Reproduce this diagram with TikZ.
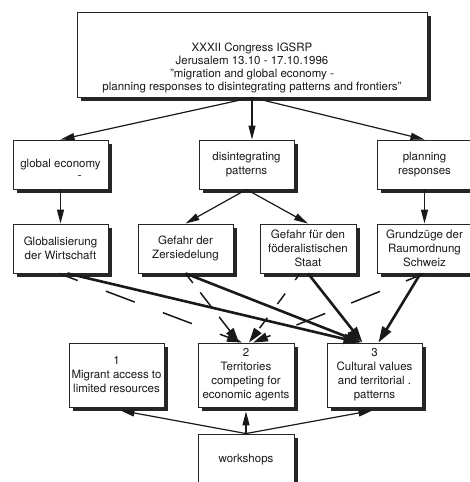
\documentclass[tikz,border=0pt]{standalone}
\usepackage{fontspec}
\setmainfont{TeX Gyre Heros}
\usetikzlibrary{arrows.meta,shadows}
\begin{document}
\begin{tikzpicture}[x=1pt,y=-1pt,
  txt/.style={font=\fontsize{11.5}{14}\selectfont, align=center, text=black!90},
  box/.style={txt, draw=black!85, line width=0.9pt, fill=white, inner sep=0pt,
    drop shadow={shadow xshift=4pt,shadow yshift=-4pt,fill=black!85,opacity=1}},
  boxA/.style={box, minimum width=95pt, minimum height=49pt},
  boxB/.style={box, minimum width=95pt, minimum height=64pt},
  thinarrow/.style={line width=1.2pt, draw=black!90, -{Triangle[length=14pt,width=7pt]}},
  thickarrow/.style={line width=2.6pt, draw=black!90, -{Triangle[length=16pt,width=10pt]}},
  dashline/.style={line width=1.5pt, draw=black!90, -{Triangle[length=15pt,width=9pt]}},
]
\useasboundingbox (0,0) rectangle (470,482);
\clip (0,0) rectangle (470,482);

% top box
\node[box, minimum width=350pt, minimum height=85pt] (top) at (252,54.5) {};
\node[font=\fontsize{11.5}{13}\selectfont, align=center, text=black!90] (toptext) at (252,67.5)
  {XXXII Congress IGSRP\\Jerusalem 13.10 - 17.10.1996\\"migration and global economy -\\planning responses to disintegrating patterns and frontiers"};

% second row
\node[boxA] (ge) at (60.5,164.5) {global economy};
\node[boxA] (dis) at (246.5,164.5) {disintegrating\\patterns};
\node[boxA] (pr) at (424.5,164.5) {planning\\responses};
\draw[line width=0.6pt, black!70] (78,175.5) -- (81,175.5);

% third row
\node[boxA] (gw) at (60.5,248.5) {Globalisierung\\der Wirtschaft};
\node[boxA] (gd) at (185.5,248.5) {Gefahr der\\Zersiedelung};
\node[boxA, minimum width=96pt] (gf) at (308,248.5) {Gefahr f\"ur den\\f\"oderalistischen\\Staat};
\node[boxA] (gz) at (424.5,248.5) {Grundz\"uge der\\Raumordnung\\Schweiz};

% fourth row
\node[boxB] (b1) at (116.5,375) {1\\Migrant access to\\limited resources};
\node[boxB, minimum width=96pt] (b2) at (246,375) {2\\Territories\\competing for\\economic agents};
\node[boxB] (b3) at (374.5,375) {3\\Cultural values\\and territorial .\\patterns};

% workshops
\node[box, minimum width=96pt, minimum height=52pt] (wk) at (246,460) {workshops};

% top arrows
\draw[thinarrow] (top.south) -- (ge.north);
\draw[thinarrow] (top.south) -- (top.south |- dis.north);
\draw[thinarrow] (top.south) -- (pr.north);

% second to third row
\draw[thinarrow] (ge.south) -- (gw.north);
\draw[thinarrow] (dis.south) -- (gd.north);
\draw[thinarrow] (dis.south) -- (gf.north);
\draw[thinarrow] (pr.south) -- (gz.north);

% dashed lines to box 2
\draw[dashline, dash pattern=on 31pt off 30pt, dash phase=11pt] ([xshift=-1.5pt]gw.south) -- ([xshift=-4pt]b2.north);
\draw[dashline, dash pattern=on 19pt off 12pt, dash phase=7pt] (gd.south) -- ([xshift=-7pt]b2.north);
\draw[dashline, dash pattern=on 13pt off 17pt, dash phase=5pt] ([xshift=-8pt]gf.south) -- ([xshift=3pt]b2.north);
\draw[dashline, dash pattern=on 31pt off 28pt, dash phase=11pt] (gz.south) -- ([xshift=7pt]b2.north);

% thick lines to box 3
\draw[thickarrow] ([xshift=7pt]gw.south) -- ([xshift=-15pt]b3.north);
\draw[thickarrow] (gd.south) -- ([xshift=-13pt]b3.north);
\draw[thickarrow] (gf.south) -- ([xshift=-12pt]b3.north);
\draw[thickarrow] ([xshift=-4pt]gz.south) -- ([xshift=4pt]b3.north);

% workshops arrows
\draw[thinarrow] (wk.north) -- ([xshift=4pt,yshift=-3pt]b1.south);
\draw[thinarrow] (wk.north) -- ([yshift=-4pt]b2.south);
\draw[thinarrow] (wk.north) -- ([xshift=-2pt,yshift=-3pt]b3.south);
\end{tikzpicture}
\end{document}
